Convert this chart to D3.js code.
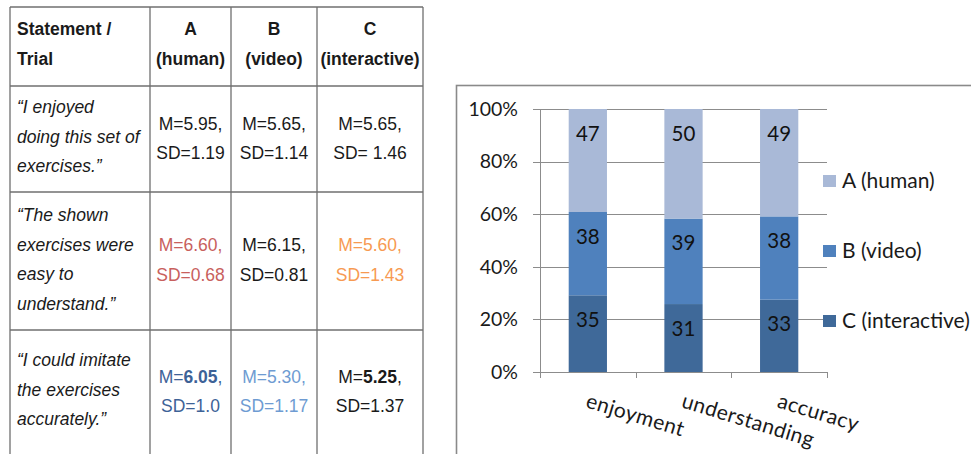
<!DOCTYPE html>
<html>
<head>
<meta charset="utf-8">
<script src="https://cdn.jsdelivr.net/npm/d3@7"></script>
<style>
  html, body { margin: 0; padding: 0; background: #fff; }
  svg { display: block; }
</style>
</head>
<body>
<svg id="chart" width="971" height="454"></svg>
<script>
// ---------- DATA ----------
// Table
const tableHeader = [["Statement /", "Trial"], ["A", "(human)"], ["B", "(video)"], ["C", "(interactive)"]];
const statements = [
  ["\u201cI enjoyed", "doing this set of", "exercises.\u201d"],
  ["\u201cThe shown", "exercises were", "easy to", "understand.\u201d"],
  ["\u201cI could imitate", "the exercises", "accurately.\u201d"]
];
const meanLabels = [
  ["5.95", "5.65", "5.65"],
  ["6.60", "6.15", "5.60"],
  ["6.05", "5.30", "5.25"]
];
const sdLabels = [
  ["1.19", "1.14", " 1.46"],
  ["0.68", "0.81", "1.43"],
  ["1.0", "1.17", "1.37"]
];

// Chart
const categories = ["enjoyment", "understanding", "accuracy"];
const seriesNames = ["C (interactive)", "B (video)", "A (human)"];
const valuesC = [35, 31, 33];
const valuesB = [38, 39, 38];
const valuesA = [47, 50, 49];
const yTickValues = [0, 0.2, 0.4, 0.6, 0.8, 1.0];
const legendOrder = ["A (human)", "B (video)", "C (interactive)"];

// ---------- STYLES ----------
const cellColors = [
  ["#1a1a1a", "#1a1a1a", "#1a1a1a"],
  ["#c8605d", "#1a1a1a", "#f79a52"],
  ["#3d6297", "#6e9bd2", "#1a1a1a"]
];
const meanBold = [
  [false, false, false],
  [false, false, false],
  [true, false, true]
];
const seriesColors = { "A (human)": "#a9b9d7", "B (video)": "#4f81bd", "C (interactive)": "#3f6999" };

const svg = d3.select("#chart");

// ---------- TABLE ----------
const colX = [10, 150, 231, 317, 423];
const rowY = [7, 86, 192, 330, 470];
const tFont = "'Liberation Sans', Arial, sans-serif";
const tSize = 17.5;
const lineH = 29.6;
const tg = svg.append("g");

tg.selectAll("line.v").data(colX).join("line")
  .attr("x1", d => d).attr("x2", d => d)
  .attr("y1", rowY[0]).attr("y2", rowY[rowY.length - 1])
  .attr("stroke", "#6f6f6f").attr("stroke-width", 1.3);
tg.selectAll("line.h").data(rowY.slice(0, 4)).join("line")
  .attr("x1", colX[0]).attr("x2", colX[colX.length - 1])
  .attr("y1", d => d).attr("y2", d => d)
  .attr("stroke", "#6f6f6f").attr("stroke-width", 1.3);

tableHeader.forEach((lines, ci) => {
  const isFirst = ci === 0;
  const x = isFirst ? 17 : (colX[ci] + colX[ci + 1]) / 2;
  lines.forEach((t, li) => {
    tg.append("text")
      .attr("x", x).attr("y", 35 + li * 30)
      .attr("text-anchor", isFirst ? "start" : "middle")
      .attr("font-family", tFont).attr("font-size", tSize)
      .attr("font-weight", "bold").attr("fill", "#1a1a1a")
      .text(t);
  });
});

const stmtFirstBaseline = [113, 221, 366];
statements.forEach((lines, ri) => {
  lines.forEach((t, li) => {
    tg.append("text")
      .attr("x", 17).attr("y", stmtFirstBaseline[ri] + li * lineH)
      .attr("font-family", tFont).attr("font-size", tSize)
      .attr("font-style", "italic").attr("fill", "#1a1a1a")
      .text(t);
  });
});

const meanBaseline = [129.5, 251, 382.7];
meanLabels.forEach((row, ri) => {
  row.forEach((m, ci) => {
    const cx = (colX[ci + 1] + colX[ci + 2]) / 2;
    const t1 = tg.append("text")
      .attr("x", cx).attr("y", meanBaseline[ri])
      .attr("text-anchor", "middle")
      .attr("font-family", tFont).attr("font-size", tSize)
      .attr("fill", cellColors[ri][ci]);
    t1.append("tspan").text("M=");
    t1.append("tspan").attr("font-weight", meanBold[ri][ci] ? "bold" : "normal").text(m);
    t1.append("tspan").text(",");
    tg.append("text")
      .attr("x", cx).attr("y", meanBaseline[ri] + 29.5)
      .attr("text-anchor", "middle")
      .attr("font-family", tFont).attr("font-size", tSize)
      .attr("fill", cellColors[ri][ci])
      .attr("xml:space", "preserve")
      .text("SD=" + sdLabels[ri][ci]);
  });
});

// ---------- CHART ----------
const cFont = "Lato, 'Open Sans', sans-serif";
const cg = svg.append("g");

cg.append("rect")
  .attr("x", 456.5).attr("y", 85.5).attr("width", 600).attr("height", 500)
  .attr("fill", "none").attr("stroke", "#8a8a8a").attr("stroke-width", 1.6);

const plotL = 540, plotR = 827, plotT = 109, plotB = 372;
const x = d3.scaleBand().domain(categories).range([plotL, plotR])
  .paddingInner(0.6).paddingOuter(0.3);
const xb = d3.scaleBand().domain(categories).range([plotL, plotR]).padding(0);
const y = d3.scaleLinear().domain([0, 1]).range([plotB, plotT]);

cg.selectAll("line.grid").data(yTickValues).join("line")
  .attr("x1", plotL - 7).attr("x2", plotR)
  .attr("y1", d => Math.round(y(d)) + 0.5).attr("y2", d => Math.round(y(d)) + 0.5)
  .attr("stroke", "#8c8c8c").attr("stroke-width", 1);

cg.selectAll("text.ylab").data(yTickValues).join("text")
  .attr("x", 518).attr("y", d => y(d))
  .attr("dy", "0.35em").attr("text-anchor", "end")
  .attr("font-family", cFont).attr("font-size", 19.5).attr("fill", "#1a1a1a")
  .text(d => d3.format(".0%")(d));

const table = categories.map((c, i) => ({
  cat: c, "A (human)": valuesA[i], "B (video)": valuesB[i], "C (interactive)": valuesC[i]
}));
const stack = d3.stack().keys(seriesNames).offset(d3.stackOffsetExpand);
const series = stack(table);

series.forEach(s => {
  const g = cg.append("g");
  g.selectAll("rect").data(s).join("rect")
    .attr("x", d => x(d.data.cat))
    .attr("width", x.bandwidth())
    .attr("y", d => y(d[1]))
    .attr("height", d => y(d[0]) - y(d[1]))
    .attr("fill", seriesColors[s.key]);
  g.selectAll("text").data(s).join("text")
    .attr("x", d => x(d.data.cat) + x.bandwidth() / 2)
    .attr("y", d => y(d[1]) + 31.5)
    .attr("text-anchor", "middle")
    .attr("font-family", cFont).attr("font-size", 20.5).attr("fill", "#111")
    .text(d => d.data[s.key]);
});

cg.append("line")
  .attr("x1", plotL + 0.5).attr("x2", plotL + 0.5)
  .attr("y1", plotT).attr("y2", plotB + 6)
  .attr("stroke", "#8c8c8c").attr("stroke-width", 1);

const boundaries = categories.map(c => xb(c) + xb.bandwidth());
cg.selectAll("line.xt").data(boundaries).join("line")
  .attr("x1", d => Math.round(d) + 0.5).attr("x2", d => Math.round(d) + 0.5)
  .attr("y1", plotB).attr("y2", plotB + 6)
  .attr("stroke", "#8c8c8c").attr("stroke-width", 1);

cg.selectAll("text.xlab").data(categories).join("text")
  .attr("transform", d => `translate(${xb(d) + xb.bandwidth() / 2 - 3},407) rotate(17)`)
  .attr("text-anchor", "start")
  .attr("font-family", cFont).attr("font-size", 21).attr("letter-spacing", 0.4).attr("fill", "#1a1a1a")
  .text(d => d);

const legY = [181, 251, 321];
legendOrder.forEach((k, i) => {
  cg.append("rect")
    .attr("x", 823).attr("y", legY[i] - 6).attr("width", 13).attr("height", 12)
    .attr("fill", seriesColors[k]);
  cg.append("text")
    .attr("x", 842).attr("y", legY[i]).attr("dy", "0.35em")
    .attr("font-family", cFont).attr("font-size", 21).attr("fill", "#1a1a1a")
    .text(k);
});
</script>
</body>
</html>
